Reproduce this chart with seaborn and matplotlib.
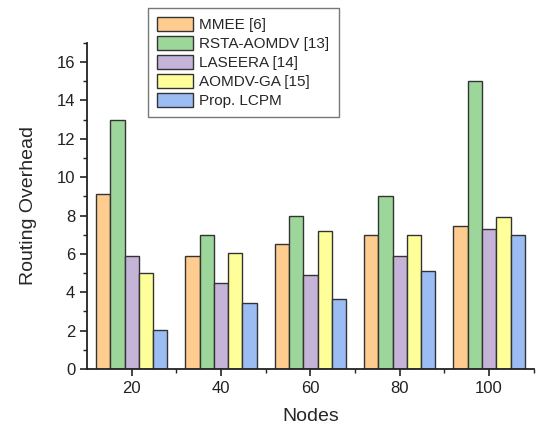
import pandas as pd
import seaborn as sns
import matplotlib.pyplot as plt
from matplotlib.ticker import MultipleLocator, FixedLocator

nodes = ["20", "40", "60", "80", "100"]
methods = ["MMEE [6]", "RSTA-AOMDV [13]", "LASEERA [14]", "AOMDV-GA [15]", "Prop. LCPM"]
mmee = [9.1, 5.9, 6.5, 7.0, 7.45]
rsta = [13.0, 7.0, 8.0, 9.0, 15.0]
laseera = [5.9, 4.5, 4.9, 5.9, 7.3]
aomdv_ga = [5.0, 6.05, 7.2, 7.0, 7.9]
lcpm = [2.05, 3.45, 3.65, 5.1, 7.0]
colors = ["#FFCC8F", "#9DD69A", "#C6B4D8", "#FFFF99", "#9CBCF4"]

rows = []
for m, vals in zip(methods, [mmee, rsta, laseera, aomdv_ga, lcpm]):
    for n, v in zip(nodes, vals):
        rows.append({"Nodes": n, "Method": m, "Overhead": v})
df = pd.DataFrame(rows)

sns.set_style("ticks")
plt.rcParams["font.family"] = ["Liberation Sans", "DejaVu Sans"]

fig = plt.figure(figsize=(5.37, 4.29), dpi=100)
ax = fig.add_axes([0.162, 0.14, 0.832, 0.76])

sns.barplot(data=df, x="Nodes", y="Overhead", hue="Method", order=nodes,
            hue_order=methods, palette=colors, saturation=1, width=0.8,
            edgecolor="#333333", linewidth=1.0, ax=ax, legend=True)

ax.set_xlim(-0.5, 4.5)
ax.set_ylim(0, 17)
ax.yaxis.set_major_locator(MultipleLocator(2))
ax.yaxis.set_minor_locator(MultipleLocator(1))
ax.xaxis.set_minor_locator(FixedLocator([0.5, 1.5, 2.5, 3.5, 4.5]))
ax.tick_params(which="major", direction="out", length=5, width=1.2, labelsize=12, colors="#222222")
ax.tick_params(which="minor", direction="out", length=3, width=1.0, colors="#222222")
for s in ["left", "bottom"]:
    ax.spines[s].set_linewidth(1.3)
    ax.spines[s].set_color("#222222")
sns.despine(ax=ax)

ax.set_xlabel("Nodes", fontsize=14, labelpad=9)
ax.set_ylabel("Routing Overhead", fontsize=14, labelpad=14)

handles, labels = ax.get_legend_handles_labels()
ax.get_legend().remove()
fig.legend(handles, labels, loc="upper left", bbox_to_anchor=(0.276, 0.981),
           bbox_transform=fig.transFigure, fontsize=11, frameon=True,
           fancybox=False, edgecolor="#555555", handlelength=2.3,
           handleheight=1.0, borderpad=0.6, labelspacing=0.25,
           handletextpad=0.45, borderaxespad=0)

fig.savefig("out.png", dpi=100)
